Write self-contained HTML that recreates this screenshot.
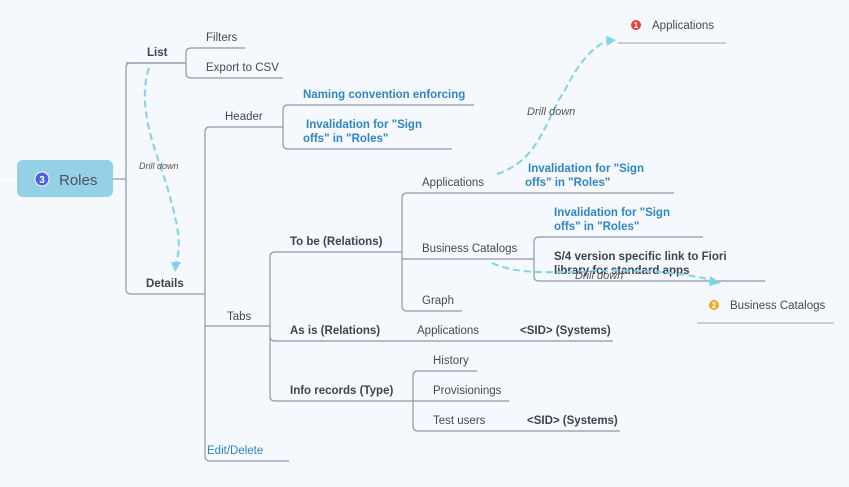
<!DOCTYPE html>
<html><head><meta charset="utf-8"><style>
html,body{margin:0;padding:0;background:#f5f9fe;}
svg{display:block}
text{font-family:"Liberation Sans",sans-serif;font-size:11.5px;fill:#454a52}
.b{font-weight:bold;fill:#3d4350}
.bl{font-weight:bold;fill:#2f86c6}
.it{font-style:italic;fill:#555}
</style></head><body>
<svg width="849" height="487" viewBox="0 0 849 487" xmlns="http://www.w3.org/2000/svg">
<rect width="849" height="487" fill="#f5f9fe"/>
<g fill="none" stroke="#8e97aa" stroke-width="1.2">
<path d="M113 179 H126"/>
<path d="M185 63 H131 Q126 63 126 68 V289 Q126 294 131 294 H205"/>
<path d="M245 48 H191 Q186 48 186 53 V73 Q186 78 191 78 H283"/>
<path d="M186 63 H126"/>
<path d="M283 127 H210 Q205 127 205 132 V456 Q205 461 210 461 H289"/>
<path d="M205 326 H270"/>
<path d="M474 105 H288 Q283 105 283 110 V144 Q283 149 288 149 H452"/>
<path d="M402 252 H275 Q270 252 270 257 V396 Q270 401 275 401 H413"/>
<path d="M270 336 Q270 341 275 341 H613"/>
<path d="M674 193 H407 Q402 193 402 198 V306 Q402 311 407 311 H462"/>
<path d="M402 259 H534"/>
<path d="M703 237 H539 Q534 237 534 242 V276 Q534 281 539 281 H765"/>
<path d="M477 371 H418 Q413 371 413 376 V426 Q413 431 418 431 H620"/>
<path d="M413 401 H509"/>
</g>
<path d="M0 181 L17 179" stroke="#fff" stroke-width="3"/>
<line x1="618" y1="43" x2="726" y2="43" stroke="#a0a4ab" stroke-width="1"/>
<line x1="697" y1="323" x2="834" y2="323" stroke="#a0a4ab" stroke-width="1"/>
<rect x="17" y="160" width="96" height="37" rx="6" fill="#94d1e6"/>
<circle cx="42" cy="179" r="7" fill="#4d5fe0" stroke="#fff" stroke-width="1"/>
<text x="42" y="183" text-anchor="middle" style="font-size:10px;font-weight:bold;fill:#fff">3</text>
<text x="59" y="185" style="font-size:15px;fill:#4b5460">Roles</text>
<text x="147" y="56" class="b">List</text>
<text x="146" y="287" class="b">Details</text>
<text x="206" y="41">Filters</text>
<text x="206" y="71">Export to CSV</text>
<text x="225" y="120">Header</text>
<text x="227" y="320">Tabs</text>
<text x="207" y="454" style="fill:#2f86c6">Edit/Delete</text>
<text x="303" y="98" class="bl">Naming convention enforcing</text>
<text x="306" y="128" class="bl">Invalidation for "Sign</text>
<text x="303" y="142" class="bl">offs" in "Roles"</text>
<text x="290" y="245" class="b">To be (Relations)</text>
<text x="290" y="334" class="b">As is (Relations)</text>
<text x="290" y="394" class="b">Info records (Type)</text>
<text x="422" y="186">Applications</text>
<text x="422" y="252">Business Catalogs</text>
<text x="422" y="304">Graph</text>
<text x="417" y="334">Applications</text>
<text x="520" y="334" class="b">&lt;SID&gt; (Systems)</text>
<text x="528" y="172" class="bl">Invalidation for "Sign</text>
<text x="525" y="186" class="bl">offs" in "Roles"</text>
<text x="554" y="216" class="bl">Invalidation for "Sign</text>
<text x="554" y="230" class="bl">offs" in "Roles"</text>
<text x="554" y="260" class="b">S/4 version specific link to Fiori</text>
<text x="554" y="274" class="b">library for standard apps</text>
<text x="433" y="364">History</text>
<text x="433" y="394">Provisionings</text>
<text x="433" y="424">Test users</text>
<text x="527" y="424" class="b">&lt;SID&gt; (Systems)</text>
<circle cx="636" cy="25" r="5" fill="#e5433f"/>
<text x="636" y="28" text-anchor="middle" style="font-size:8px;font-weight:bold;fill:#fff">1</text>
<text x="652" y="29">Applications</text>
<circle cx="714" cy="305" r="5" fill="#f5a623"/>
<text x="714" y="308" text-anchor="middle" style="font-size:8px;font-weight:bold;fill:#fff">2</text>
<text x="730" y="309">Business Catalogs</text>
<g fill="none" stroke="#7fd3ec" stroke-width="2" stroke-dasharray="7,4">
<path d="M149 68 C135 110 160 160 168 190 C178 225 182 245 176 262"/>
<path d="M497 174 C540 160 545 120 565 90 C580 60 595 45 608 41"/>
<path d="M492 263 C540 285 620 258 712 280"/>
</g>
<g fill="#7fd3ec">
<path d="M171 262 L181 262 L175 272 Z"/>
<path d="M606 36 L616 40 L607 46 Z"/>
<path d="M710 276 L721 283 L709 286 Z"/>
</g>
<text x="139" y="169" class="it" style="font-size:9px">Drill down</text>
<text x="527" y="115" class="it" style="font-size:11px">Drill down</text>
<text x="575" y="279" class="it" style="font-size:11px">Drill down</text>
</svg>
</body></html>
